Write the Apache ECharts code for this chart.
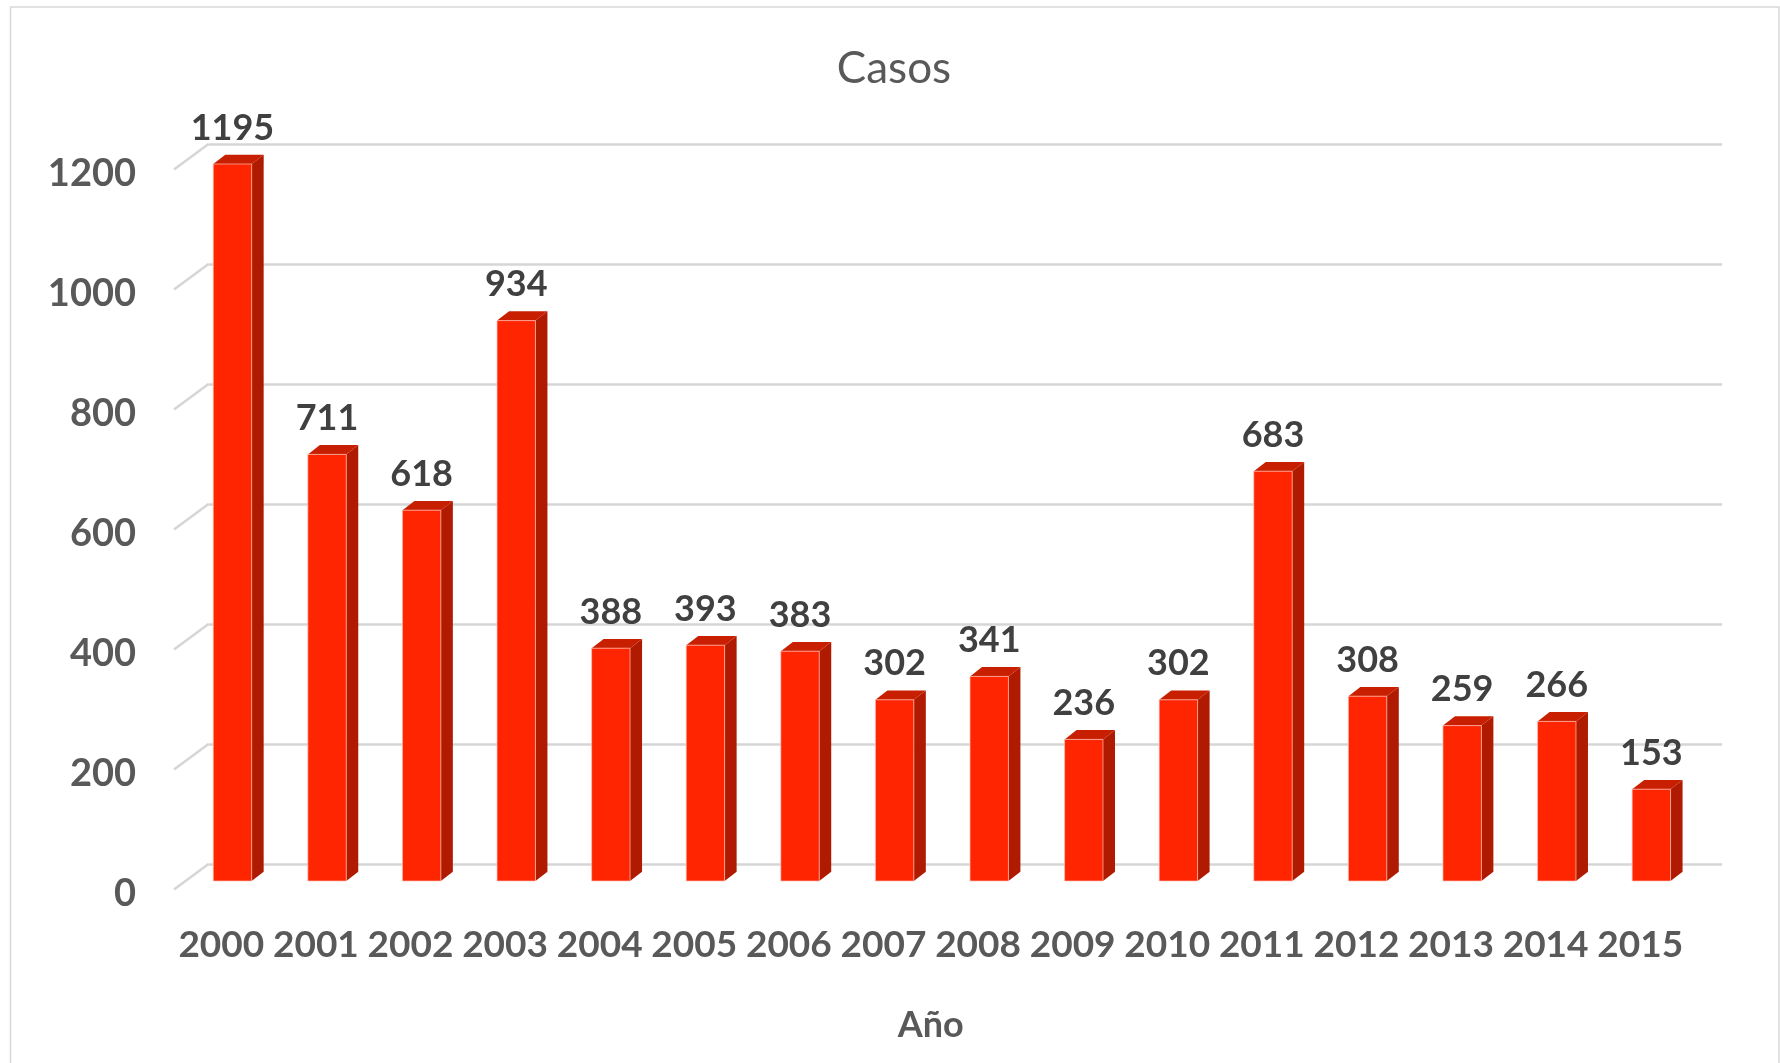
<!DOCTYPE html>
<html>
<head>
<meta charset="utf-8">
<script src="https://cdn.jsdelivr.net/npm/echarts@6/dist/echarts.min.js"></script>
<style>
html,body{margin:0;padding:0;background:#fff;}
#chart{width:1780px;height:1063px;}
</style>
</head>
<body>
<div id="chart"></div>
<script>
const years = ['2000','2001','2002','2003','2004','2005','2006','2007','2008','2009','2010','2011','2012','2013','2014','2015'];
const casos = [1195,711,618,934,388,393,383,302,341,236,302,683,308,259,266,153];
const yTicks = [0,200,400,600,800,1000,1200];
const titleText = 'Casos';
const xAxisName = 'Año';

const FONT = 'Lato';
const chart = echarts.init(document.getElementById('chart'), null, {renderer:'canvas'});

const DEPTH_X = 34.5, DEPTH_Y = 25.5;

const option = {
  backgroundColor: '#ffffff',
  animation: false,
  title: {
    text: titleText,
    left: 894,
    textAlign: 'center',
    top: 46,
    padding: 0,
    textStyle: {fontFamily: FONT, fontSize: 44, fontWeight: 'normal', color: '#595959', lineHeight: 46}
  },
  graphic: [{
    type: 'rect', silent: true, z: -10,
    shape: {x: 10.5, y: 7, width: 1768.5, height: 1100},
    style: {fill: 'none', stroke: '#d9d9d9', lineWidth: 1.5}
  }],
  grid: [
    {left: 208.5, right: 58, top: 144, bottom: 199},
    {left: 174, right: 92.5, top: 169.5, bottom: 173.5},
    {left: 174, right: 92.5, top: 174, bottom: 169}
  ],
  xAxis: [
    {type: 'category', gridIndex: 0, data: years, boundaryGap: true,
     axisLine: {show: false}, axisTick: {show: false}, axisLabel: {show: false}, splitLine: {show: false}},
    {type: 'category', gridIndex: 1, data: years, boundaryGap: true,
     axisLine: {show: false}, axisTick: {show: false}, splitLine: {show: false},
     axisLabel: {show: true, interval: 0, margin: 37, fontFamily: FONT, fontSize: 37, fontWeight: 'bold', color: '#595959'},
     name: xAxisName, nameLocation: 'middle', nameGap: 118,
     nameTextStyle: {fontFamily: FONT, fontSize: 36, fontWeight: 'bold', color: '#595959'}},
    {type: 'category', gridIndex: 2, data: years, show: false}
  ],
  yAxis: [
    {type: 'value', gridIndex: 0, min: 0, max: 1200, interval: 200,
     axisLine: {show: false}, axisTick: {show: false}, axisLabel: {show: false},
     splitLine: {show: true, lineStyle: {color: '#d6d6d6', width: 2.5}}},
    {type: 'value', gridIndex: 1, min: 0, max: 1200, interval: 200,
     axisLine: {show: false}, axisTick: {show: false}, splitLine: {show: false}, axisLabel: {show: false}},
    {type: 'value', gridIndex: 2, min: 0, max: 1200, interval: 200,
     axisLine: {show: false}, axisTick: {show: false}, splitLine: {show: false},
     axisLabel: {show: true, margin: 38, fontFamily: FONT, fontSize: 38, fontWeight: 'bold', color: '#595959',
                 formatter: function(v){ return String(v); }}}
  ],
  series: [
    {
      type: 'custom', name: 'ticks3d', xAxisIndex: 0, yAxisIndex: 0, silent: true, z: 1,
      data: yTicks.map(t => [0, t]),
      renderItem: function(params, api){
        const p = api.coord([api.value(0), api.value(1)]);
        const band = api.size([1, 0])[0];
        const x = p[0] - band/2;
        return {type: 'line', shape: {x1: x, y1: p[1], x2: x - DEPTH_X, y2: p[1] + DEPTH_Y},
                style: {stroke: '#d6d6d6', lineWidth: 2.5}};
      }
    },
    {
      type: 'custom', name: 'Casos', xAxisIndex: 1, yAxisIndex: 1, silent: true, z: 5,
      data: casos.map((v, i) => [i, v]),
      renderItem: function(params, api){
        const i = api.value(0), v = api.value(1);
        const top = api.coord([i, v]);
        const base = api.coord([i, 0]);
        const band = api.size([1, 0])[0];
        const w = band * 0.406;
        const cx = top[0] + band * 0.118;
        const xl = cx - w/2, xr = cx + w/2;
        const yt = top[1] - 8.5, yb = base[1] - 8.5;
        const dx = 12, dy = 9.3;
        return {type: 'group', children: [
          {type: 'polygon', shape: {points: [[xr, yt], [xr+dx, yt-dy], [xr+dx, yb-dy], [xr, yb]]},
           style: {fill: '#b01a00'}},
          {type: 'polygon', shape: {points: [[xl, yt], [xr, yt], [xr+dx, yt-dy], [xl+dx, yt-dy]]},
           style: {fill: '#c81f00'}},
          {type: 'rect', shape: {x: xl, y: yt, width: w, height: yb - yt},
           style: {fill: '#ff2500', stroke: 'rgba(255,190,180,0.7)', lineWidth: 1}},
          {type: 'text', x: cx, y: yt - 36,
           style: {text: String(v), align: 'center', verticalAlign: 'middle',
                   font: 'bold 36px ' + FONT, fill: '#404040'}}
        ]};
      }
    }
  ]
};
chart.setOption(option);
</script>
</body>
</html>
